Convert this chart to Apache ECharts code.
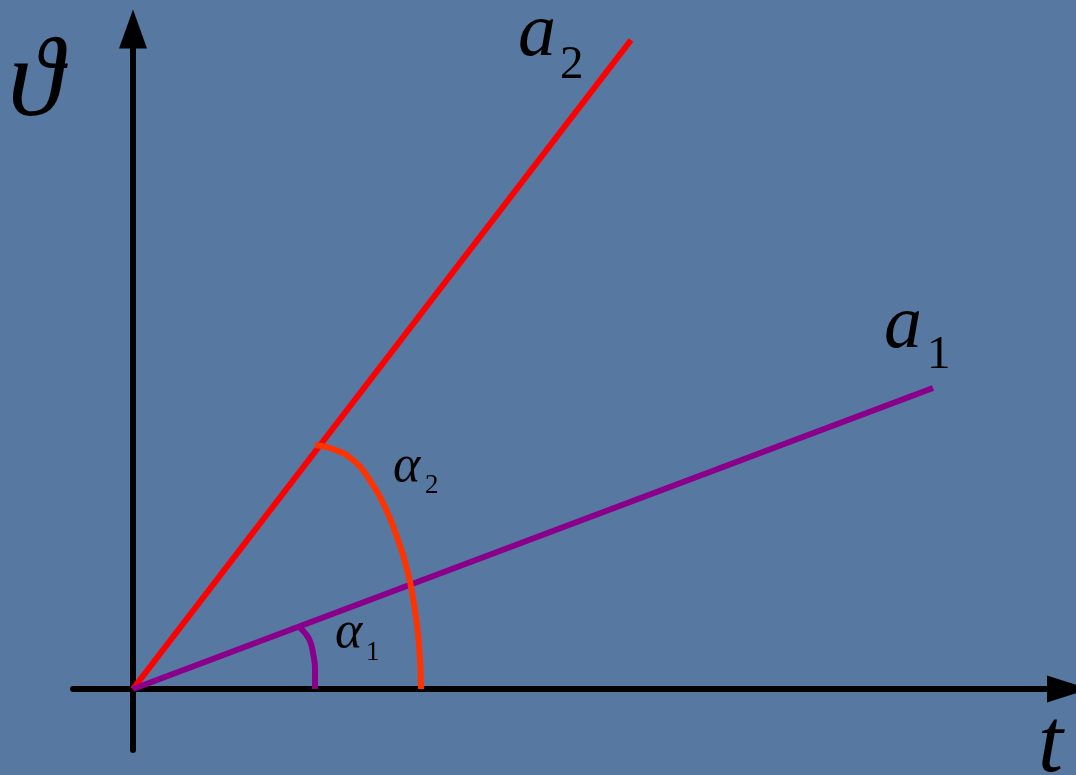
<!DOCTYPE html>
<html>
<head>
<meta charset="utf-8">
<style>
  html, body { margin: 0; padding: 0; background: #5779a1; }
  #main { width: 1076px; height: 775px; }
</style>
<script src="https://cdn.jsdelivr.net/npm/echarts@6/dist/echarts.min.js"></script>
</head>
<body>
<div id="main"></div>
<script>
const xRange = [-60, 935]
const yRange = [-61, 660]

const lineA2 = [[0, 0], [498, 649]]
const lineA1 = [[0, 0], [800, 301]]
// angle arcs, traced point by point
const arcAlpha2 = [[182, 244], [200, 240], [220, 229], [238, 207], [252, 182], [264, 152], [274, 120], [281, 85], [286, 45], [288, 0]]
const arcAlpha1 = [[167, 61], [172, 56], [177, 48], [180, 36], [182, 20], [182, 0]]

const serif = '"Times New Roman", "Liberation Serif", "DejaVu Serif", serif'

function txt(text, x, y, size, italic) {
  return {
    type: 'text',
    x: x,
    y: y,
    z: 10,
    style: {
      text: text,
      fontFamily: serif,
      fontSize: size,
      fontStyle: italic ? 'italic' : 'normal',
      fill: '#000',
      align: 'left',
      verticalAlign: 'middle'
    }
  }
}

function mid(baseline, size) {
  return baseline - 0.3 * size
}

const chart = echarts.init(document.getElementById('main'))

const axisCommon = {
  type: 'value',
  axisTick: { show: false },
  axisLabel: { show: false },
  splitLine: { show: false }
}

chart.setOption({
  backgroundColor: '#5779a1',
  animation: false,
  grid: { left: 73, right: 8, top: 29, bottom: 25 },
  xAxis: Object.assign({}, axisCommon, {
    min: xRange[0],
    max: xRange[1],
    axisLine: {
      show: true,
      onZero: true,
      symbol: ['none', 'triangle'],
      symbolSize: [27, 42],
      lineStyle: { color: '#000', width: 6 }
    }
  }),
  yAxis: Object.assign({}, axisCommon, {
    min: yRange[0],
    max: yRange[1],
    axisLine: {
      show: true,
      onZero: true,
      symbol: ['none', 'triangle'],
      symbolSize: [28, 39],
      lineStyle: { color: '#000', width: 6 }
    }
  }),
  series: [
    {
      type: 'line',
      data: lineA2,
      showSymbol: false,
      lineStyle: { color: '#ff0000', width: 6, cap: 'butt' }
    },
    {
      type: 'line',
      data: lineA1,
      showSymbol: false,
      lineStyle: { color: '#8b008b', width: 6, cap: 'butt' }
    },
    {
      type: 'line',
      data: arcAlpha2,
      smooth: true,
      showSymbol: false,
      lineStyle: { color: '#ff3300', width: 6, cap: 'butt' }
    },
    {
      type: 'line',
      data: arcAlpha1,
      smooth: true,
      showSymbol: false,
      lineStyle: { color: '#8b008b', width: 6, cap: 'butt' }
    }
  ],
  graphic: [
    txt('ϑ', 8, mid(119, 112), 112, true),
    txt('t', 1038, mid(774, 90), 90, true),
    txt('a', 518, mid(58, 76), 76, true),
    txt('2', 560, mid(80, 47), 47, false),
    txt('a', 884, mid(350, 76), 76, true),
    txt('1', 927, mid(370, 47), 47, false),
    txt('α', 393, mid(483, 52), 52, true),
    txt('2', 425, mid(494, 27), 27, false),
    txt('α', 335, mid(649, 52), 52, true),
    txt('1', 366, mid(661, 27), 27, false)
  ]
})
</script>
</body>
</html>
